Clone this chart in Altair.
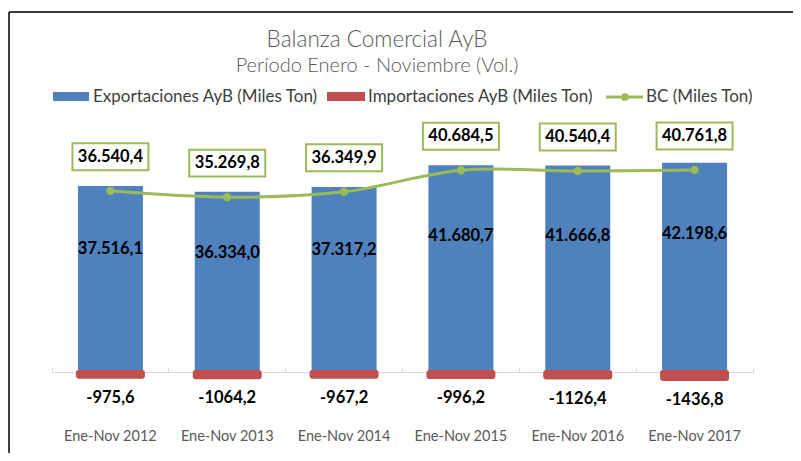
import altair as alt
import pandas as pd

# ---------------- data ----------------
categories = ["Ene-Nov 2012", "Ene-Nov 2013", "Ene-Nov 2014",
              "Ene-Nov 2015", "Ene-Nov 2016", "Ene-Nov 2017"]
exportaciones = [37516.1, 36334.0, 37317.2, 41680.7, 41666.8, 42198.6]
importaciones = [-975.6, -1064.2, -967.2, -996.2, -1126.4, -1436.8]
balanza = [36540.4, 35269.8, 36349.9, 40684.5, 40540.4, 40761.8]
series_names = ["Exportaciones AyB (Miles Ton)",
                "Importaciones AyB (Miles Ton)",
                "BC (Miles Ton)"]

df = pd.DataFrame({"cat": categories, "exp": exportaciones,
                   "imp": importaciones, "bc": balanza})

# ---------------- style / layout ----------------
BLUE, RED, GREEN = "#4F81BD", "#C0504D", "#9BBB59"
GRAY = "#595959"
FONT = "Lato"
W, H = 784, 441
PX_PER_UNIT = 0.004958
ZERO = 360
Y_DOMAIN = [-5000, 50000]
Y_RANGE = [ZERO - Y_DOMAIN[0] * PX_PER_UNIT, ZERO - Y_DOMAIN[1] * PX_PER_UNIT]

xs = alt.Scale(domain=categories, range=[43, 744], paddingInner=0, paddingOuter=0)
ys = alt.Scale(domain=Y_DOMAIN, range=Y_RANGE, nice=False, zero=False)

top_axis = alt.Axis(orient="top", offset=-ZERO, labels=False, title=None,
                    domainColor="#D9D9D9", tickColor="#D9D9D9", tickSize=5,
                    bandPosition=1, tickExtra=True, grid=False)
bottom_axis = alt.Axis(orient="bottom", offset=-28, domain=False, ticks=False,
                       labelPadding=4, labelFontSize=14.5, labelColor=GRAY,
                       labelFont=FONT, title=None, labelAngle=0, grid=False)

base = alt.Chart(df)
X_none = alt.X("cat:N", scale=xs, sort=categories, axis=None)

exp_bars = base.mark_bar(size=65, color=BLUE).encode(
    x=alt.X("cat:N", scale=xs, sort=categories, axis=top_axis),
    y=alt.Y("exp:Q", scale=ys, axis=None),
)
imp_bars = base.mark_bar(size=65, color=RED, stroke=RED, strokeWidth=4,
                         strokeJoin="round", cornerRadius=1).encode(
    x=alt.X("cat:N", scale=xs, sort=categories, axis=bottom_axis),
    y=alt.Y("imp:Q", scale=ys, axis=None),
)
line = base.mark_line(color=GREEN, strokeWidth=3, interpolate="catmull-rom").encode(
    x=X_none, y=alt.Y("bc:Q", scale=ys, axis=None))
points = base.mark_circle(color=GREEN, size=70, opacity=1).encode(
    x=X_none, y=alt.Y("bc:Q", scale=ys, axis=None))

bc_lab = base.transform_calculate(
    ly="datum.bc + 34 / %f" % PX_PER_UNIT,
    txt="replace(replace(replace(format(datum.bc, ',.1f'), ',', '#'), '.', ','), '#', '.')",
)
box_path = "M-1,-0.355L1,-0.355L1,0.355L-1,0.355Z"
bc_boxes = bc_lab.mark_point(shape=box_path, size=76 * 76, filled=True, fill="white",
                             stroke=GREEN, strokeWidth=2, opacity=1).encode(
    x=X_none, y=alt.Y("ly:Q", scale=ys, axis=None))
bc_text = bc_lab.mark_text(font=FONT, fontSize=16.5, fontWeight="bold", color="black",
                           baseline="middle").encode(
    x=X_none, y=alt.Y("ly:Q", scale=ys, axis=None), text="txt:N")

exp_text = base.transform_calculate(
    ly="datum.exp * 0.66",
    txt="replace(replace(replace(format(datum.exp, ',.1f'), ',', '#'), '.', ','), '#', '.')",
).mark_text(font=FONT, fontSize=16.5, fontWeight="bold", color="black",
            baseline="middle").encode(
    x=X_none, y=alt.Y("ly:Q", scale=ys, axis=None), text="txt:N")

imp_text = base.transform_calculate(
    txt="'-' + replace(format(-datum.imp, '.1f'), '.', ',')",
).mark_text(font=FONT, fontSize=16.5, fontWeight="bold", color="black",
            baseline="middle", dy=21).encode(
    x=X_none, y=alt.Y("imp:Q", scale=ys, axis=None), text="txt:N")

# ---------------- legend (decoration) ----------------
one = alt.Chart(pd.DataFrame({"k": [0]}))
LEG_Y = 85
leg_txt = dict(font=FONT, fontSize=17, color="#404040", align="left", baseline="middle")
legend = [
    one.mark_rect(color=BLUE).encode(x=alt.value(44), x2=alt.value(80),
                                     y=alt.value(LEG_Y - 5), y2=alt.value(LEG_Y + 4)),
    one.mark_text(**leg_txt).encode(x=alt.value(84), y=alt.value(LEG_Y),
                                    text=alt.value(series_names[0])),
    one.mark_rect(color=RED).encode(x=alt.value(318), x2=alt.value(356),
                                    y=alt.value(LEG_Y - 5), y2=alt.value(LEG_Y + 4)),
    one.mark_text(**leg_txt).encode(x=alt.value(359), y=alt.value(LEG_Y),
                                    text=alt.value(series_names[1])),
    one.mark_rule(color=GREEN, strokeWidth=3).encode(x=alt.value(597), x2=alt.value(634),
                                                     y=alt.value(LEG_Y)),
    one.mark_circle(color=GREEN, size=60, opacity=1).encode(x=alt.value(616),
                                                             y=alt.value(LEG_Y)),
    one.mark_text(**leg_txt).encode(x=alt.value(637), y=alt.value(LEG_Y),
                                    text=alt.value(series_names[2])),
]

border = [
    one.mark_rule(color="black", strokeWidth=1.5).encode(
        x=alt.value(0), y=alt.value(0), y2=alt.value(H)),
    one.mark_rule(color="black", strokeWidth=1.5).encode(
        x=alt.value(0), x2=alt.value(W), y=alt.value(0)),
]

chart = alt.layer(
    exp_bars, imp_bars, line, points, bc_boxes, bc_text, exp_text, imp_text,
    *legend, *border
).resolve_axis(x="independent").properties(
    width=W, height=H,
    autosize=alt.AutoSizeParams(type="none"),
    padding={"left": 1, "top": 4, "right": 0, "bottom": 0},
    title=alt.TitleParams(
        text="Balanza Comercial AyB",
        subtitle="Período Enero - Noviembre (Vol.)",
        font=FONT, fontSize=22.5, fontWeight=300, color=GRAY,
        subtitleFont=FONT, subtitleFontSize=20, subtitleFontWeight=300,
        subtitleColor=GRAY,
        subtitlePadding=5, anchor="middle", frame="group", offset=-65, dx=-24,
    ),
).configure_view(stroke=None).configure(background="white")

chart.save("out.html", embed_options={"renderer": "svg", "actions": False})
